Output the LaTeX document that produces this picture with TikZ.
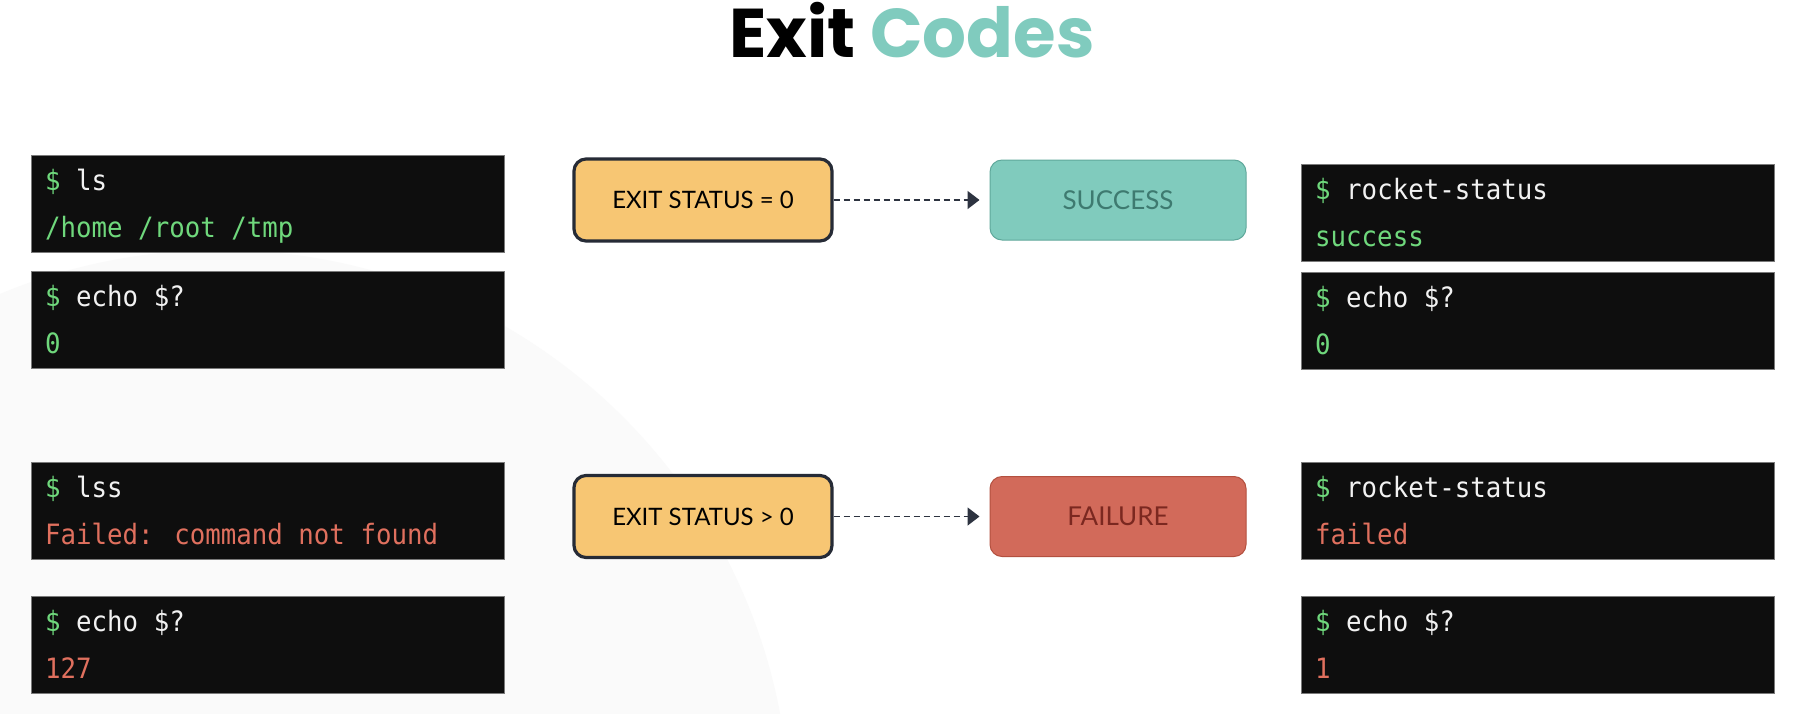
\documentclass[tikz,border=0pt]{standalone}
\usepackage{fontspec}
\setmainfont{Lato}
\newfontfamily\titlefont{Poppins}
\newfontfamily\termfont{DejaVu Sans Mono}[FakeStretch=0.92]
\usetikzlibrary{arrows.meta}
\definecolor{tgreen}{HTML}{6FD87C}
\definecolor{tred}{HTML}{E0705E}
\definecolor{twhite}{HTML}{F2F2F2}
\definecolor{tbg}{HTML}{0E0E0E}
\definecolor{tborder}{HTML}{7A7A7A}
\definecolor{ofill}{HTML}{F7C673}
\definecolor{oborder}{HTML}{262B36}
\definecolor{tealfill}{HTML}{80CBBD}
\definecolor{tealborder}{HTML}{5FA89B}
\definecolor{tealtext}{HTML}{3E7A70}
\definecolor{redfill}{HTML}{D26A5A}
\definecolor{redborder}{HTML}{B3503F}
\definecolor{redtext}{HTML}{7B2820}
\definecolor{titleteal}{HTML}{80CBBE}
\definecolor{arrowcol}{HTML}{2D3340}
\definecolor{bgfaint}{HTML}{FAFAFA}
\tikzset{
  termbg/.style={draw=tborder, line width=1pt, fill=tbg, minimum width=473pt, minimum height=97pt, inner sep=0pt},
  termtxt/.style={inner sep=0pt, font=\termfont\fontsize{28}{34}\selectfont, text=twhite},
  statusbox/.style={draw=oborder, line width=3.2pt, fill=ofill, rounded corners=12pt, minimum width=258pt, minimum height=82pt, font=\fontsize{24}{28}\selectfont, text=black},
  okbox/.style={draw=tealborder, line width=1pt, fill=tealfill, rounded corners=12pt, minimum width=256pt, minimum height=80pt, font=\fontsize{26}{30}\selectfont, text=tealtext},
  failbox/.style={draw=redborder, line width=1pt, fill=redfill, rounded corners=12pt, minimum width=256pt, minimum height=80pt, font=\fontsize{26}{30}\selectfont, text=redtext},
  dasharrow/.style={draw=arrowcol, line width=1.6pt, dash pattern=on 6pt off 4pt, -{Triangle[length=12pt,width=18pt]}, shorten >=10pt}
}
\newcommand\termbox[6]{%
  \node[termbg, anchor=north west] (#1) at (#2,#3) {};
  \node[termtxt, anchor=base west] (#1-a) at ([shift={(14pt,-35pt)}]#1.north west) {\textcolor{tgreen}{\$} #4};
  \node[termtxt, anchor=base west, text=#5] (#1-b) at ([shift={(14pt,-82pt)}]#1.north west) {#6};
}
\begin{document}
\begin{tikzpicture}[x=1pt,y=-1pt]
\useasboundingbox (0,0) rectangle (1795,713);
\fill[white] (0,0) rectangle (1795,713);
\begin{scope}
  \clip (0,0) rectangle (1795,713);
  \fill[bgfaint] (220,820) circle[radius=570pt];
\end{scope}
% title
\node[anchor=base, inner sep=0pt, font=\titlefont\bfseries\fontsize{69}{80}\selectfont] (title) at (912,57) {Exit \textcolor{titleteal}{Codes}};
% left terminals
\termbox{l1}{31}{155}{ls}{tgreen}{/home /root /tmp}
\termbox{l2}{31}{271}{echo \$?}{tgreen}{0}
\termbox{l3}{31}{462}{lss}{tred}{Failed: command not found}
\termbox{l4}{31}{596}{echo \$?}{tred}{127}
% right terminals
\termbox{r1}{1301}{164}{rocket-status}{tgreen}{success}
\termbox{r2}{1301}{272}{echo \$?}{tgreen}{0}
\termbox{r3}{1301}{462}{rocket-status}{tred}{failed}
\termbox{r4}{1301}{596}{echo \$?}{tred}{1}
% status boxes
\node[statusbox] (o1) at (703,200) {EXIT STATUS = 0};
\node[okbox] (s1) at (1118,200) {SUCCESS};
\node[statusbox] (o2) at (703,516.5) {EXIT STATUS > 0};
\node[failbox] (f1) at (1118,516.5) {FAILURE};
\draw[dasharrow] (o1) -- (s1);
\draw[dasharrow] (o2) -- (f1);
\end{tikzpicture}
\end{document}
